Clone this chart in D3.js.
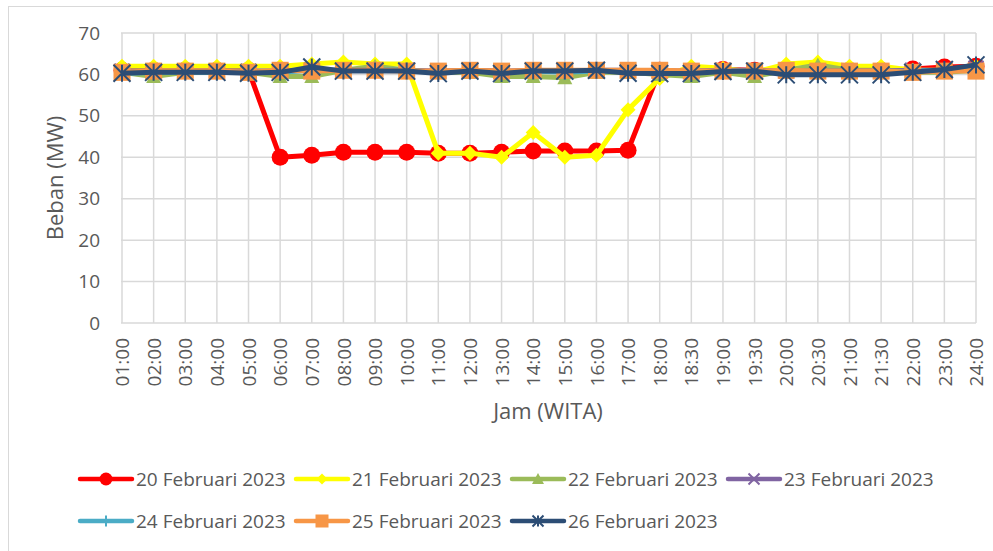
<!DOCTYPE html>
<html>
<head>
<meta charset="utf-8">
<script src="https://cdn.jsdelivr.net/npm/d3@7.9.0/dist/d3.min.js"></script>
<style>
  body { margin: 0; background: #fff; }
  svg text { font-family: "Open Sans", "Noto Sans", sans-serif; fill: #595959; }
</style>
</head>
<body>
<div id="chart"></div>
<script>
const jam = ["01:00","02:00","03:00","04:00","05:00","06:00","07:00","08:00","09:00","10:00",
  "11:00","12:00","13:00","14:00","15:00","16:00","17:00","18:00","18:30","19:00",
  "19:30","20:00","20:30","21:00","21:30","22:00","23:00","24:00"];

const yTicks = [0, 10, 20, 30, 40, 50, 60, 70];

// beban per hari (MW)
const feb20 = [61,61,61,61,61,40,40.5,41.2,41.2,41.2,41,41,41.2,41.5,41.5,41.5,41.7,61,60.5,61.2,61,61,61,61,61,61.3,61.8,62];
const feb21 = [62,62,62,62,62,62,62.5,63,62.5,62.5,41,41,40,46,40,40.5,51.5,59,62,61.5,60.5,62.5,63,62,62,61,61,62];
const feb22 = [60.5,59.5,60.5,60.5,60.5,59.5,59.5,61,62,61,60.5,60.5,59.5,59.5,59.2,60.5,60.5,60,59.5,60.5,59.5,61,62.3,61,61,60.5,60.5,61];
const feb23 = [60.8,60.8,60.8,60.8,60.8,60.8,61,61,61,61,60.8,61,60.8,61,60.8,61,61,60.8,60.8,61,61,60.8,60.8,60.8,60.8,61,61,61.5];
const feb24 = [60.2,60.5,60.5,60.5,60.5,60.5,61,61,61,61,60.5,60.8,60.5,60.8,60.5,60.8,60.8,60.5,60.5,60.8,60.8,60.5,60.5,60.5,60.5,60.8,61,61.5];
const feb25 = [60.5,60.8,60.8,60.8,60.5,61,60.8,61,61,60.8,60.8,61,60.8,61,61,61,61,61,60.8,60.8,60.8,61,60.8,60.8,60.8,60.5,60.8,60.8];
const feb26 = [60.3,60.5,60.5,60.5,60.3,60.5,61.8,60.8,60.8,60.8,60.2,60.8,60.2,60.8,60.8,61,60.3,60.2,60.2,60.7,60.8,59.9,59.9,59.9,59.9,60.5,61.2,62.3];

const series = [
  { name: "20 Februari 2023", values: feb20, color: "#ff0000", marker: "circle" },
  { name: "21 Februari 2023", values: feb21, color: "#ffff00", marker: "diamond" },
  { name: "22 Februari 2023", values: feb22, color: "#9bbb59", marker: "triangle" },
  { name: "23 Februari 2023", values: feb23, color: "#8064a2", marker: "x" },
  { name: "24 Februari 2023", values: feb24, color: "#4bacc6", marker: "plus" },
  { name: "25 Februari 2023", values: feb25, color: "#f79646", marker: "square" },
  { name: "26 Februari 2023", values: feb26, color: "#2c4d75", marker: "star" }
];

const width = 993;
const height = 551;
const plot = { left: 121, right: 976, top: 33, bottom: 323 };

const svg = d3.select("#chart")
  .append("svg")
  .attr("width", width)
  .attr("height", height);

// chart border
svg.append("rect")
  .attr("x", 8.5).attr("y", 6.5)
  .attr("width", 1000).attr("height", 1000)
  .attr("fill", "none")
  .attr("stroke", "#d9d9d9")
  .attr("stroke-width", 1);

const x = d3.scalePoint()
  .domain(jam)
  .range([plot.left + 1, plot.right]);

const y = d3.scaleLinear()
  .domain([0, 70])
  .range([plot.bottom, plot.top]);

// gridlines
svg.append("g")
  .selectAll("line")
  .data(yTicks)
  .join("line")
  .attr("x1", plot.left).attr("x2", plot.right)
  .attr("y1", d => y(d)).attr("y2", d => y(d))
  .attr("stroke", "#d9d9d9")
  .attr("stroke-width", 1.5);

svg.append("g")
  .selectAll("line")
  .data(jam)
  .join("line")
  .attr("x1", d => x(d)).attr("x2", d => x(d))
  .attr("y1", plot.top).attr("y2", plot.bottom)
  .attr("stroke", "#d9d9d9")
  .attr("stroke-width", 1.5);

// y axis
const yAxis = svg.append("g")
  .attr("transform", `translate(${plot.left}, 0)`)
  .call(d3.axisLeft(y).tickValues(yTicks).tickSize(0).tickPadding(21));
yAxis.select(".domain").remove();
yAxis.selectAll("text")
  .style("font-size", "19px")
  .attr("fill", "#595959")
  .style("font-family", "'Open Sans', sans-serif");

// x axis
const xAxis = svg.append("g")
  .attr("transform", `translate(0, ${plot.bottom})`)
  .call(d3.axisBottom(x).tickSize(0));
xAxis.select(".domain").remove();
xAxis.selectAll("text")
  .style("font-size", "19px")
  .attr("fill", "#595959")
  .style("font-family", "'Open Sans', sans-serif")
  .attr("text-anchor", "end")
  .attr("dy", "0.35em")
  .attr("dx", 0)
  .attr("transform", "translate(0, 15) rotate(-90)")
  .attr("y", 0)
  .attr("x", 0);

// axis titles
svg.append("text")
  .attr("transform", "translate(63, 178) rotate(-90)")
  .attr("text-anchor", "middle")
  .style("font-size", "22px")
  .text("Beban (MW)");

svg.append("text")
  .attr("x", 548).attr("y", 419)
  .attr("text-anchor", "middle")
  .style("font-size", "22px")
  .text("Jam (WITA)");

function drawMarker(g, type, color, s) {
  if (type === "circle") {
    g.append("circle").attr("r", s / 2).attr("fill", color);
  } else if (type === "diamond") {
    g.append("path").attr("d", `M0,${-s/2}L${s/2},0L0,${s/2}L${-s/2},0Z`).attr("fill", color);
  } else if (type === "triangle") {
    g.append("path").attr("d", `M0,${-s/2}L${s/2},${s/2 - 1}L${-s/2},${s/2 - 1}Z`).attr("fill", color);
  } else if (type === "square") {
    g.append("rect").attr("x", -s/2).attr("y", -s/2).attr("width", s).attr("height", s).attr("fill", color);
  } else if (type === "x") {
    const h = s / 2;
    g.append("path").attr("d", `M${-h},${-h}L${h},${h}M${h},${-h}L${-h},${h}`)
      .attr("stroke", color).attr("stroke-width", 2).attr("fill", "none");
  } else if (type === "plus") {
    const h = s / 2;
    g.append("path").attr("d", `M0,${-h}L0,${h}M${-h},0L${h},0`)
      .attr("stroke", color).attr("stroke-width", 2).attr("fill", "none");
  } else if (type === "star") {
    const h = s / 2;
    g.append("path").attr("d", `M${-h},${-h}L${h},${h}M${h},${-h}L${-h},${h}M0,${-h}L0,${h}`)
      .attr("stroke", color).attr("stroke-width", 2).attr("fill", "none");
  }
}

const line = d3.line()
  .x((d, i) => x(jam[i]))
  .y(d => y(d));

const markerSize = { circle: 17, diamond: 15, triangle: 15, square: 17, x: 15, plus: 15, star: 17 };

series.forEach(s => {
  const g = svg.append("g");
  g.append("path")
    .datum(s.values)
    .attr("d", line)
    .attr("fill", "none")
    .attr("stroke", s.color)
    .attr("stroke-width", 5)
    .attr("stroke-linejoin", "round");
  s.values.forEach((v, i) => {
    const m = g.append("g").attr("transform", `translate(${x(jam[i])}, ${y(v)})`);
    drawMarker(m, s.marker, s.color, markerSize[s.marker]);
  });
});

// legend
const legendPos = [
  [80, 479], [296, 479], [512, 479], [728, 479],
  [80, 521], [296, 521], [512, 521]
];
const legendSize = { circle: 13, diamond: 11, triangle: 12, square: 13, x: 11, plus: 11, star: 11 };

series.forEach((s, i) => {
  const [lx, ly] = legendPos[i];
  const g = svg.append("g").attr("transform", `translate(${lx}, ${ly})`);
  g.append("line")
    .attr("x1", 0).attr("x2", 52)
    .attr("stroke", s.color)
    .attr("stroke-width", 4.5)
    .attr("stroke-linecap", "round");
  const m = g.append("g").attr("transform", "translate(26, 0)");
  drawMarker(m, s.marker, s.color, legendSize[s.marker]);
  g.append("text")
    .attr("x", 56)
    .attr("dy", "0.35em")
    .style("font-size", "19px")
    .text(s.name);
});
</script>
</body>
</html>
